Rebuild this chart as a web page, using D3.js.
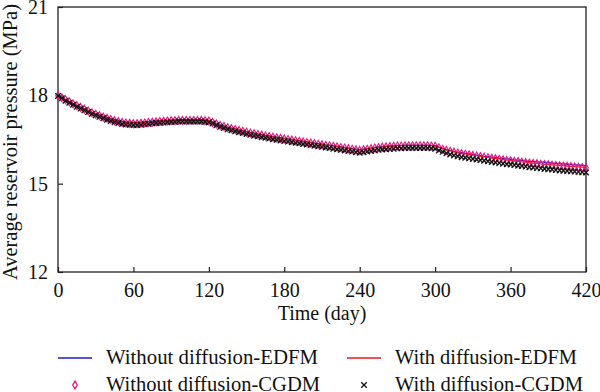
<!DOCTYPE html>
<html>
<head>
<meta charset="utf-8">
<script src="https://cdn.jsdelivr.net/npm/d3@7"></script>
<style>
  body { margin: 0; background: #fff; }
</style>
</head>
<body>
<div id="chart"></div>
<script>
var svgWidth = 600;
var svgHeight = 392;

var margin = { top: 7, right: 14, bottom: 120, left: 58 };
var width = svgWidth - margin.left - margin.right;
var height = svgHeight - margin.top - margin.bottom;

var fontFam = "'Liberation Serif', 'Times New Roman', serif";

// sample times (day), one every 3 days
var days = d3.range(0, 421, 3);

// average reservoir pressure (MPa)
var withoutDiffEDFM = [
  18.00,17.93,17.86,17.79,17.72,17.66,17.60,17.54,17.49,17.43,17.38,17.34,17.29,17.25,17.21,17.18,17.15,17.12,17.10,17.09,17.08,
  17.08,17.09,17.10,17.11,17.12,17.13,17.14,17.15,17.15,17.16,17.16,17.17,17.17,17.17,17.17,17.17,17.17,17.17,17.16,17.15,
  17.10,17.05,17.00,16.96,16.92,16.89,16.86,16.83,16.80,16.77,16.74,16.72,16.69,16.67,16.64,16.62,16.60,16.58,16.56,16.54,
  16.52,16.50,16.48,16.46,16.44,16.42,16.40,16.38,16.36,16.34,16.32,16.31,16.29,16.27,16.25,16.23,16.21,16.19,16.17,16.15,
  16.17,16.19,16.21,16.23,16.25,16.26,16.27,16.28,16.29,16.30,16.30,16.31,16.31,16.31,16.31,16.31,16.31,16.31,16.30,16.29,
  16.24,16.20,16.16,16.13,16.10,16.07,16.05,16.03,16.01,15.99,15.97,15.95,15.93,15.92,15.90,15.89,15.87,15.86,15.84,15.83,
  15.81,15.80,15.79,15.77,15.76,15.75,15.74,15.73,15.72,15.71,15.70,15.69,15.68,15.67,15.66,15.65,15.64,15.63,15.62,15.61
];
var withDiffEDFM = [
  18.00,17.93,17.86,17.79,17.72,17.66,17.60,17.54,17.48,17.42,17.37,17.32,17.27,17.23,17.19,17.15,17.12,17.10,17.08,17.07,17.06,
  17.06,17.07,17.08,17.10,17.11,17.12,17.13,17.14,17.15,17.15,17.16,17.16,17.16,17.16,17.16,17.16,17.16,17.16,17.15,17.14,
  17.09,17.04,16.99,16.95,16.91,16.88,16.85,16.82,16.79,16.76,16.73,16.71,16.68,16.66,16.63,16.61,16.59,16.57,16.55,16.53,
  16.51,16.49,16.47,16.45,16.43,16.41,16.39,16.37,16.35,16.33,16.31,16.30,16.28,16.26,16.24,16.22,16.20,16.18,16.16,16.14,
  16.16,16.18,16.20,16.22,16.24,16.25,16.26,16.27,16.28,16.29,16.29,16.30,16.30,16.30,16.30,16.30,16.30,16.30,16.29,16.28,
  16.23,16.18,16.14,16.11,16.08,16.05,16.03,16.01,15.99,15.97,15.95,15.93,15.91,15.89,15.87,15.86,15.84,15.82,15.80,15.79,
  15.77,15.76,15.74,15.73,15.71,15.70,15.69,15.67,15.66,15.65,15.64,15.63,15.62,15.61,15.60,15.59,15.58,15.57,15.56,15.55
];
var withoutDiffCGDM = [
  17.99,17.92,17.85,17.78,17.71,17.65,17.59,17.53,17.47,17.41,17.36,17.31,17.26,17.22,17.18,17.14,17.11,17.08,17.06,17.05,17.04,
  17.04,17.05,17.06,17.08,17.09,17.10,17.11,17.12,17.13,17.14,17.14,17.15,17.15,17.15,17.15,17.15,17.15,17.15,17.14,17.13,
  17.08,17.03,16.98,16.94,16.90,16.87,16.84,16.81,16.78,16.75,16.72,16.70,16.67,16.65,16.62,16.60,16.58,16.56,16.54,16.52,
  16.50,16.48,16.46,16.44,16.42,16.40,16.38,16.36,16.34,16.32,16.30,16.29,16.27,16.25,16.23,16.21,16.19,16.17,16.15,16.13,
  16.15,16.17,16.19,16.21,16.23,16.24,16.25,16.26,16.27,16.28,16.28,16.29,16.29,16.29,16.29,16.29,16.29,16.29,16.28,16.27,
  16.22,16.17,16.13,16.10,16.07,16.04,16.02,16.00,15.98,15.96,15.94,15.92,15.90,15.88,15.86,15.85,15.83,15.81,15.79,15.78,
  15.76,15.75,15.73,15.72,15.70,15.69,15.68,15.66,15.65,15.64,15.63,15.62,15.61,15.60,15.59,15.58,15.57,15.56,15.55,15.54
];
var withDiffCGDM = [
  17.98,17.90,17.82,17.75,17.68,17.61,17.55,17.49,17.43,17.37,17.32,17.27,17.22,17.17,17.13,17.09,17.06,17.03,17.01,17.00,16.99,
  16.99,17.00,17.02,17.03,17.05,17.06,17.07,17.08,17.09,17.10,17.10,17.11,17.11,17.11,17.11,17.11,17.11,17.11,17.10,17.09,
  17.04,16.98,16.93,16.89,16.85,16.81,16.78,16.75,16.72,16.69,16.66,16.63,16.61,16.58,16.56,16.53,16.51,16.49,16.47,16.45,
  16.43,16.41,16.39,16.37,16.35,16.33,16.31,16.29,16.27,16.25,16.23,16.21,16.19,16.17,16.15,16.13,16.11,16.09,16.07,16.05,
  16.07,16.09,16.11,16.13,16.15,16.16,16.17,16.18,16.19,16.20,16.20,16.21,16.21,16.21,16.21,16.21,16.21,16.21,16.20,16.19,
  16.13,16.08,16.03,15.99,15.96,15.93,15.90,15.88,15.86,15.84,15.82,15.80,15.78,15.76,15.74,15.72,15.70,15.68,15.66,15.65,
  15.63,15.61,15.60,15.58,15.56,15.55,15.53,15.52,15.50,15.49,15.48,15.46,15.45,15.44,15.43,15.42,15.41,15.40,15.39,15.38
];

var xTicks = [0, 60, 120, 180, 240, 300, 360, 420];
var yTicks = [12, 15, 18, 21];

var legendLabels = ["Without diffusion-EDFM", "With diffusion-EDFM",
                    "Without diffusion-CGDM", "With diffusion-CGDM"];

var blue = "#1a1adb";
var red = "#f01818";
var pink = "#e8147a";

var svg = d3.select("#chart")
  .append("svg")
  .attr("width", svgWidth)
  .attr("height", svgHeight);

var chartGroup = svg.append("g")
  .attr("transform", `translate(${margin.left}, ${margin.top})`);

var xScale = d3.scaleLinear().domain([0, 420]).range([0, width]);
var yScale = d3.scaleLinear().domain([12, 21]).range([height, 0]);

// axes, ticks pointing inward
var bottomAxis = d3.axisBottom(xScale).tickValues(xTicks).tickSizeInner(-5).tickSizeOuter(0).tickPadding(11);
var leftAxis = d3.axisLeft(yScale).tickValues(yTicks).tickSizeInner(-5).tickSizeOuter(0).tickPadding(10);

var xAxis = chartGroup.append("g")
  .attr("transform", `translate(0, ${height})`)
  .call(bottomAxis);
var yAxis = chartGroup.append("g").call(leftAxis);

[xAxis, yAxis].forEach(function(a) {
  a.select(".domain").remove();
  a.selectAll("line").attr("stroke", "#222").attr("stroke-width", 1.2);
  a.selectAll("text")
    .style("font-family", fontFam)
    .style("font-size", "20px")
    .attr("fill", "#111");
});
xAxis.selectAll("text").attr("dy", "0.72em");

// frame
chartGroup.append("rect")
  .attr("width", width)
  .attr("height", height)
  .attr("fill", "none")
  .attr("stroke", "#222")
  .attr("stroke-width", 1.3);

var line = d3.line()
  .x(function(d, i) { return xScale(days[i]); })
  .y(function(d) { return yScale(d); });

chartGroup.append("path")
  .datum(withoutDiffEDFM)
  .attr("d", line)
  .attr("fill", "none")
  .attr("stroke", blue)
  .attr("stroke-width", 1.3);

chartGroup.append("path")
  .datum(withDiffEDFM)
  .attr("d", line)
  .attr("fill", "none")
  .attr("stroke", red)
  .attr("stroke-width", 1.3);

var diamond = d3.symbol().type(d3.symbolDiamond).size(18);
var cross = d3.symbol().type(d3.symbolX).size(22);

chartGroup.selectAll(".dmark")
  .data(withoutDiffCGDM)
  .enter()
  .append("path")
  .attr("class", "dmark")
  .attr("transform", function(d, i) { return `translate(${xScale(days[i])}, ${yScale(d)})`; })
  .attr("d", diamond)
  .attr("fill", "none")
  .attr("stroke", pink)
  .attr("stroke-width", 1.1);

chartGroup.selectAll(".xmark")
  .data(withDiffCGDM)
  .enter()
  .append("path")
  .attr("class", "xmark")
  .attr("transform", function(d, i) { return `translate(${xScale(days[i])}, ${yScale(d)})`; })
  .attr("d", cross)
  .attr("fill", "none")
  .attr("stroke", "#111")
  .attr("stroke-width", 1.3);

// axis titles
svg.append("text")
  .attr("x", margin.left + width / 2)
  .attr("y", 320)
  .attr("text-anchor", "middle")
  .style("font-family", fontFam)
  .style("font-size", "20px")
  .attr("fill", "#111")
  .text("Time (day)");

svg.append("text")
  .attr("transform", "rotate(-90)")
  .attr("x", -142)
  .attr("y", 17)
  .attr("text-anchor", "middle")
  .attr("textLength", 276)
  .attr("lengthAdjust", "spacingAndGlyphs")
  .style("font-family", fontFam)
  .style("font-size", "20px")
  .attr("fill", "#111")
  .text("Average reservoir pressure (MPa)");

// legend
var legend = svg.append("g");
var legendPos = [[58, 358], [347, 358], [58, 385], [347, 385]];
var legendWidths = [212, 182, 214, 188];

legendLabels.forEach(function(label, i) {
  var p = legendPos[i];
  var g = legend.append("g").attr("transform", `translate(${p[0]}, ${p[1]})`);
  if (i === 0 || i === 1) {
    g.append("line")
      .attr("x1", 0).attr("x2", 34)
      .attr("stroke", i === 0 ? blue : red)
      .attr("stroke-width", 1.3);
  } else {
    g.append("path")
      .attr("transform", "translate(17, 0)")
      .attr("d", i === 2 ? diamond : cross)
      .attr("fill", "none")
      .attr("stroke", i === 2 ? pink : "#111")
      .attr("stroke-width", 1.3);
  }
  g.append("text")
    .attr("x", 48)
    .attr("y", 6)
    .attr("textLength", legendWidths[i])
    .attr("lengthAdjust", "spacingAndGlyphs")
    .style("font-family", fontFam)
    .style("font-size", "20px")
    .attr("fill", "#111")
    .text(label);
});
</script>
</body>
</html>
